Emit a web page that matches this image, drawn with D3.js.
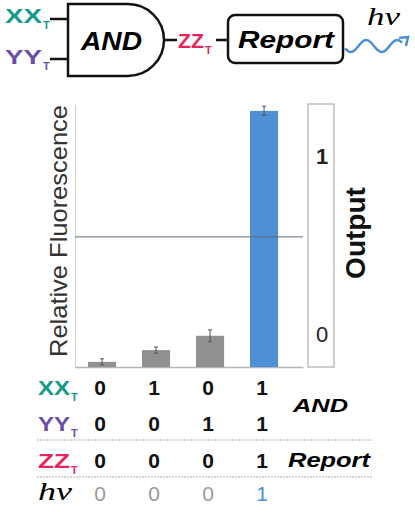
<!DOCTYPE html>
<html>
<head>
<meta charset="utf-8">
<script src="https://cdn.jsdelivr.net/npm/d3@7"></script>
<style>
  body { margin: 0; background: #fff; }
  text { font-family: "Liberation Sans", Arial, sans-serif; }
  .serif { font-family: "Liberation Serif", "Times New Roman", serif; }
</style>
</head>
<body>
<div class="chart"></div>
<script>
// data
var conditions = ['c1', 'c2', 'c3', 'c4'];
var fluorescence = [0.02, 0.066, 0.122, 1.0];
var fluorErr = [0.012, 0.012, 0.023, 0.018];
var threshold = 0.508;
var outputTicks = [0, 1];
var xxInput = [0, 1, 0, 1];
var yyInput = [0, 0, 1, 1];
var zzOutput = [0, 0, 0, 1];
var hvOutput = [0, 0, 0, 1];

var teal = '#159a8b', purple = '#6a4fa7', pink = '#e8245e', blue = '#4f8fd3', grey = '#8e9190';

var svg = d3.select('.chart')
  .append('svg')
  .attr('width', 415)
  .attr('height', 512);

// ---- top logic diagram ----
var diagram = svg.append('g');

function labelT(g, txt, x, y, color, len, size) {
  g.append('text').attr('x', x).attr('y', y)
    .attr('font-size', size || 20).attr('font-weight', 'bold').attr('fill', color)
    .attr('textLength', len).attr('lengthAdjust', 'spacingAndGlyphs')
    .text(txt);
  g.append('text').attr('x', x + len + 1).attr('y', y + 6)
    .attr('font-size', 11).attr('font-weight', 'bold').attr('fill', color)
    .text('T');
}

labelT(diagram, 'XX', 5, 23, teal, 37);
labelT(diagram, 'YY', 5, 64, purple, 37);

diagram.selectAll('line.in')
  .data([19, 59])
  .enter().append('line')
  .attr('x1', 50).attr('x2', 68)
  .attr('y1', d => d).attr('y2', d => d)
  .attr('stroke', '#111').attr('stroke-width', 2.5);

diagram.append('path')
  .attr('d', 'M68,4 H128 A36,36 0 0 1 128,76 H68 Z')
  .attr('fill', '#fff').attr('stroke', '#111').attr('stroke-width', 2.5);

diagram.append('text').attr('x', 81).attr('y', 50)
  .attr('font-size', 25).attr('font-weight', 'bold').attr('font-style', 'italic')
  .attr('textLength', 61).attr('lengthAdjust', 'spacingAndGlyphs')
  .text('AND');

diagram.append('line').attr('x1', 164).attr('x2', 177).attr('y1', 40).attr('y2', 40)
  .attr('stroke', '#111').attr('stroke-width', 2.5);
labelT(diagram, 'ZZ', 178, 48, pink, 26);
diagram.append('line').attr('x1', 216).attr('x2', 228).attr('y1', 40).attr('y2', 40)
  .attr('stroke', '#111').attr('stroke-width', 2.5);

diagram.append('rect')
  .attr('x', 228).attr('y', 15).attr('width', 115).attr('height', 48).attr('rx', 7)
  .attr('fill', '#fff').attr('stroke', '#111').attr('stroke-width', 2.5);
diagram.append('text').attr('x', 238).attr('y', 48)
  .attr('font-size', 23).attr('font-weight', 'bold').attr('font-style', 'italic')
  .attr('textLength', 96).attr('lengthAdjust', 'spacingAndGlyphs')
  .text('Report');

// light wave
var wave = d3.range(0, 58, 1).map(function(i) {
  return [345 + i, 46 + 6 * Math.sin((i + 2) / 31 * 2 * Math.PI)];
});
diagram.append('path')
  .attr('d', d3.line().curve(d3.curveBasis)(wave))
  .attr('fill', 'none').attr('stroke', blue).attr('stroke-width', 2.5);
diagram.append('path')
  .attr('d', 'M399,38 L408,37 L406,46')
  .attr('fill', 'none').attr('stroke', blue).attr('stroke-width', 2.5);

diagram.append('text').attr('class', 'serif').attr('x', 367).attr('y', 25)
  .attr('font-size', 26).attr('font-style', 'italic')
  .attr('textLength', 33).attr('lengthAdjust', 'spacingAndGlyphs')
  .text('hν');

// ---- bar chart ----
var plotTop = 105, plotBottom = 367, plotLeft = 75, plotRight = 303;

var yScale = d3.scaleLinear()
  .domain([0, 1.023])
  .range([plotBottom, plotTop]);

var xScale = d3.scaleBand()
  .domain(conditions)
  .range([plotLeft, plotRight])
  .paddingInner(0.48)
  .paddingOuter(0.351)
  .align(0.343);

var yAxis = svg.append('g')
  .attr('transform', 'translate(' + plotLeft + ',0)')
  .call(d3.axisLeft(yScale).tickValues([]).tickSizeOuter(0));
yAxis.select('.domain').attr('stroke', '#cfcfcf');

var xAxis = svg.append('g')
  .attr('transform', 'translate(0,' + plotBottom + ')')
  .call(d3.axisBottom(xScale).tickValues([]).tickSizeOuter(0));
xAxis.select('.domain').attr('stroke', '#b5b5b5').attr('stroke-width', 1.5);

svg.selectAll('rect.bar')
  .data(fluorescence)
  .enter().append('rect')
  .attr('class', 'bar')
  .attr('x', (d, i) => xScale(conditions[i]))
  .attr('width', xScale.bandwidth())
  .attr('y', d => yScale(d))
  .attr('height', d => plotBottom - yScale(d))
  .attr('fill', (d, i) => i === 3 ? blue : grey);

var err = svg.selectAll('g.err')
  .data(fluorescence)
  .enter().append('g')
  .attr('class', 'err')
  .attr('transform', (d, i) => 'translate(' + (xScale(conditions[i]) + xScale.bandwidth() / 2) + ',0)')
  .attr('stroke', '#555').attr('stroke-width', 1);
err.append('line')
  .attr('y1', (d, i) => yScale(d + fluorErr[i]))
  .attr('y2', (d, i) => yScale(d - fluorErr[i]));
err.append('line').attr('x1', -2).attr('x2', 2)
  .attr('y1', (d, i) => yScale(d + fluorErr[i]))
  .attr('y2', (d, i) => yScale(d + fluorErr[i]));
err.append('line').attr('x1', -2).attr('x2', 2)
  .attr('y1', (d, i) => yScale(d - fluorErr[i]))
  .attr('y2', (d, i) => yScale(d - fluorErr[i]));

svg.append('line')
  .attr('x1', plotLeft).attr('x2', plotRight)
  .attr('y1', yScale(threshold)).attr('y2', yScale(threshold))
  .attr('stroke', '#5d6b78').attr('stroke-width', 1);

svg.append('text')
  .attr('transform', 'translate(67,' + ((plotTop + 357) / 2) + ') rotate(-90)')
  .attr('text-anchor', 'middle')
  .attr('font-size', 24).attr('fill', '#333')
  .attr('textLength', 252).attr('lengthAdjust', 'spacingAndGlyphs')
  .text('Relative Fluorescence');

// output box
svg.append('rect')
  .attr('x', 308).attr('y', 104).attr('width', 26).attr('height', 263)
  .attr('fill', '#fff').attr('stroke', '#c4bcbe').attr('stroke-width', 1.5);

var outScale = d3.scaleLinear().domain([0, 1]).range([334, 156]);
svg.selectAll('text.out')
  .data(outputTicks)
  .enter().append('text')
  .attr('class', 'out')
  .attr('x', 322)
  .attr('y', d => outScale(d))
  .attr('dy', '0.36em')
  .attr('text-anchor', 'middle')
  .attr('font-size', 22)
  .attr('font-weight', d => d === 1 ? 'bold' : 'normal')
  .attr('fill', '#222')
  .text(d => d);

svg.append('text')
  .attr('transform', 'translate(365,233) rotate(-90)')
  .attr('text-anchor', 'middle')
  .attr('font-size', 28).attr('font-weight', 'bold').attr('fill', '#111')
  .text('Output');

// ---- truth table ----
var tbl = svg.append('g');
labelT(tbl, 'XX', 38, 395, teal, 32, 21);
labelT(tbl, 'YY', 38, 431, purple, 32, 21);
labelT(tbl, 'ZZ', 38, 468, pink, 32, 21);
tbl.append('text').attr('class', 'serif').attr('x', 38).attr('y', 500)
  .attr('font-size', 25).attr('font-style', 'italic')
  .attr('textLength', 34).attr('lengthAdjust', 'spacingAndGlyphs')
  .text('hν');

var rows = [
  {vals: xxInput, y: 395},
  {vals: yyInput, y: 431},
  {vals: zzOutput, y: 468},
  {vals: hvOutput, y: 501, light: true}
];

rows.forEach(function(r) {
  tbl.selectAll(null)
    .data(r.vals)
    .enter().append('text')
    .attr('x', (d, i) => xScale(conditions[i]) + xScale.bandwidth() / 2 - 2)
    .attr('y', r.y)
    .attr('text-anchor', 'middle')
    .attr('font-size', 21)
    .attr('font-weight', r.light ? 'normal' : 'bold')
    .attr('fill', d => r.light ? (d === 1 ? '#4a90dc' : '#9a9a9a') : '#111')
    .text(d => d);
});

tbl.selectAll('line.sep')
  .data([440, 477])
  .enter().append('line')
  .attr('x1', 37).attr('x2', 373)
  .attr('y1', d => d).attr('y2', d => d)
  .attr('stroke', '#aaa').attr('stroke-width', 1)
  .attr('stroke-dasharray', '2,1');

tbl.append('text').attr('x', 293).attr('y', 412)
  .attr('font-size', 19).attr('font-weight', 'bold').attr('font-style', 'italic')
  .attr('textLength', 55).attr('lengthAdjust', 'spacingAndGlyphs')
  .text('AND');
tbl.append('text').attr('x', 288).attr('y', 467)
  .attr('font-size', 20).attr('font-weight', 'bold').attr('font-style', 'italic')
  .attr('textLength', 82).attr('lengthAdjust', 'spacingAndGlyphs')
  .text('Report');
</script>
</body>
</html>
